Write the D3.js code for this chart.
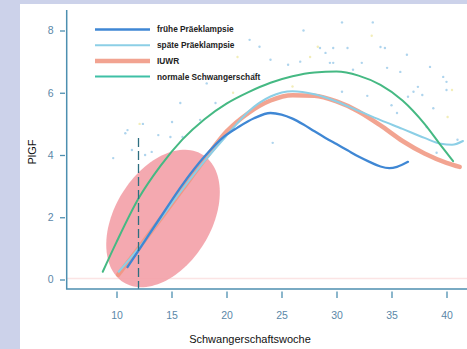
<!DOCTYPE html>
<html>
<head>
<meta charset="utf-8">
<script src="https://cdn.jsdelivr.net/npm/d3@7"></script>
<style>
  body { margin: 0; background: #ccd2ea; }
  svg { display: block; font-family: "Liberation Sans", Arial, sans-serif; }
</style>
</head>
<body>
<div id="chart"></div>
<script>
/* Tick values */
const weekTicks = [10, 15, 20, 25, 30, 35, 40];
const plgfTicks = [0, 2, 4, 6, 8];

/* Smoothed curves: [Schwangerschaftswoche, PlGF] */
const fruehePE = [[11, 0.4], [12, 0.93], [14, 2.0], [16, 3.05], [18, 3.95], [19.8, 4.6], [21, 4.88],
  [22.5, 5.18], [24, 5.35], [25, 5.3], [26, 5.17], [27, 4.98], [28, 4.76], [29, 4.55], [30, 4.35],
  [31, 4.15], [32, 3.95], [33, 3.78], [34, 3.63], [34.8, 3.58], [35.5, 3.62], [36.5, 3.78]];
const spaetePE = [[10.2, 0.25], [12, 1.0], [14, 1.95], [16, 2.9], [18, 3.8], [20, 4.62], [22, 5.4],
  [24, 5.88], [26, 6.05], [28, 5.95], [30, 5.72], [32, 5.42], [34, 5.12], [36, 4.84], [38, 4.55],
  [39.5, 4.36], [40.5, 4.33], [41.5, 4.45]];
const iuwr = [[10.15, 0.15], [12, 1.0], [14, 1.95], [16, 2.9], [18, 3.85], [20, 4.75], [22, 5.35],
  [24, 5.75], [26, 5.92], [28, 5.9], [30, 5.72], [32, 5.4], [34, 4.95], [36, 4.45], [38, 4.05],
  [40, 3.75], [41.2, 3.62]];
const normal = [[8.75, 0.25], [10, 1.2], [12, 2.6], [14, 3.65], [16, 4.5], [18, 5.15], [20, 5.65],
  [22, 6.02], [24, 6.32], [26, 6.53], [28, 6.65], [30, 6.68], [32, 6.55], [34, 6.25], [36, 5.75],
  [38, 5.0], [39.5, 4.3], [40.6, 3.8]];

/* Scattered measurements (faint) */
const dotWeek = [30.5, 33.3, 27, 33.2, 28.5, 29.7, 31, 34, 34.4, 36.4, 27.6, 29, 32.3, 34.6, 35.8,
  38.5, 39.7, 40.5, 40, 31.5, 29.7, 37, 37.8, 30.5, 28.3, 29.4, 24, 25.6, 26.7, 37.4, 40, 40.1,
  24.2, 35.5, 38.2, 41, 39.1, 36.5, 21, 22.1, 23, 11, 12.4, 11.4, 14.9, 20.6, 16.9, 10.8, 15.8,
  19, 17.6, 15.05, 12.1, 16, 13.8, 12.6, 13.2, 9.7, 18.2, 26, 32.8, 35, 38.8, 22.5];
const dotPlgf = [8.26, 8.26, 8.0, 7.83, 7.44, 7.44, 7.44, 7.47, 7.44, 7.22, 7.15, 7.28, 6.96, 6.8,
  6.67, 6.83, 6.51, 6.09, 6.35, 6.74, 6.96, 6.03, 5.93, 6.03, 7.48, 6.96, 7.06, 6.9, 7.0, 6.19,
  6.09, 5.22, 4.39, 5.35, 4.9, 4.49, 4.07, 5.87, 7.15, 7.7, 7.48, 4.8, 5.0, 4.16, 4.58, 6.0, 3.42,
  4.7, 5.67, 5.67, 5.13, 5.06, 5.0, 4.58, 4.64, 4.0, 4.1, 3.9, 6.3, 6.2, 5.9, 5.6, 5.5, 6.6];

/* Shaded region (data units): centre and two conjugate half-axes */
const ellipseCenter = [14.23, 1.96];
const ellipseAxisA = [3.6, 2.05];
const ellipseAxisB = [3.7, -0.82];
const markerWeek = 12;
const markerTop = 4.55;

const legendLabels = ["frühe Präeklampsie", "späte Präeklampsie", "IUWR", "normale Schwangerschaft"];

const width = 467, height = 349;

const svg = d3.select("#chart")
  .append("svg")
  .attr("width", width)
  .attr("height", height);

/* white panel */
svg.append("rect")
  .attr("x", 20).attr("y", 4)
  .attr("width", width - 20).attr("height", height - 4)
  .attr("fill", "#ffffff");

const x = d3.scaleLinear().domain([10, 40]).range([116.5, 446.5]);
const y = d3.scaleLinear().domain([0, 8]).range([279.5, 30.5]);

const axisColor = "#4d8fb0";
const labelColor = "#5b87a8";

/* faint zero line */
svg.append("line")
  .attr("x1", 67).attr("x2", width)
  .attr("y1", y(0) - 1).attr("y2", y(0) - 1)
  .attr("stroke", "#fbe4e4").attr("stroke-width", 1.5);

/* dots */
svg.append("g")
  .selectAll("circle")
  .data(dotWeek)
  .join("circle")
  .attr("cx", d => x(d))
  .attr("cy", (d, i) => y(dotPlgf[i]))
  .attr("r", 1.2)
  .attr("fill", (d, i) => i % 7 === 3 ? "#ece69a" : "#8cc2e6")
  .attr("opacity", 0.7);

/* ellipse built in data space */
const ell = d3.range(0, 2 * Math.PI + 0.01, Math.PI / 60).map(t => [
  ellipseCenter[0] + ellipseAxisA[0] * Math.cos(t) + ellipseAxisB[0] * Math.sin(t),
  ellipseCenter[1] + ellipseAxisA[1] * Math.cos(t) + ellipseAxisB[1] * Math.sin(t)
]);
svg.append("path")
  .attr("d", d3.line().x(d => x(d[0])).y(d => y(d[1]))(ell) + "Z")
  .attr("fill", "#f3a0a7")
  .attr("opacity", 0.9);

/* curves */
const line = d3.line()
  .x(d => x(d[0]))
  .y(d => y(d[1]))
  .curve(d3.curveMonotoneX);

const series = [
  {data: iuwr, color: "#f0947e", w: 4.5, op: 0.85},
  {data: spaetePE, color: "#8ccfe6", w: 2, op: 1},
  {data: fruehePE, color: "#3f87d4", w: 2.3, op: 1},
  {data: normal, color: "#45b983", w: 2, op: 1}
];
series.forEach(s => {
  svg.append("path")
    .attr("d", line(s.data))
    .attr("fill", "none")
    .attr("stroke", s.color)
    .attr("stroke-width", s.w)
    .attr("stroke-linecap", "round")
    .attr("opacity", s.op);
});

/* dashed marker at week 12 */
svg.append("line")
  .attr("x1", x(markerWeek)).attr("x2", x(markerWeek))
  .attr("y1", y(markerTop)).attr("y2", 289)
  .attr("stroke", "#2d6e80")
  .attr("stroke-width", 1.3)
  .attr("stroke-dasharray", "9,4");

/* box lines (L shape) */
svg.append("path")
  .attr("d", `M66.7,10V289H${width}`)
  .attr("fill", "none")
  .attr("stroke", axisColor)
  .attr("stroke-width", 1.5);

/* axes */
const xGroup = svg.append("g")
  .attr("transform", "translate(0,291.5)")
  .call(d3.axisBottom(x).tickValues(weekTicks).tickSize(6.5).tickPadding(14).tickSizeOuter(0));
const yGroup = svg.append("g")
  .attr("transform", "translate(65,0)")
  .call(d3.axisLeft(y).tickValues(plgfTicks).tickSize(5).tickPadding(6.5).tickSizeOuter(0));

[xGroup, yGroup].forEach(g => {
  g.select(".domain").remove();
  g.selectAll("line").attr("stroke", axisColor).attr("stroke-width", 1.3);
  g.selectAll("text")
    .attr("fill", labelColor)
    .style("font-size", "10.5px")
    .style("font-family", "Liberation Sans, Arial, sans-serif");
});

/* axis titles */
svg.append("text")
  .attr("x", 250).attr("y", 343)
  .attr("text-anchor", "middle")
  .style("font-size", "11px")
  .attr("fill", "#111")
  .text("Schwangerschaftswoche");

svg.append("text")
  .attr("transform", "translate(36,152) rotate(-90)")
  .attr("text-anchor", "middle")
  .style("font-size", "11px")
  .attr("fill", "#111")
  .text("PlGF");

/* legend */
const legend = svg.append("g").attr("transform", "translate(95,29.5)");
legendLabels.forEach((lab, i) => {
  const s = [series[2], series[1], series[0], {color: "#3fc0a6", w: 2, op: 1}][i];
  legend.append("line")
    .attr("x1", 0).attr("x2", 55)
    .attr("y1", i * 15.7).attr("y2", i * 15.7)
    .attr("stroke", s.color)
    .attr("stroke-width", s.w)
    .attr("opacity", s.op);
  legend.append("text")
    .attr("x", 62).attr("y", i * 15.7)
    .attr("dy", "0.35em")
    .style("font-size", "8.3px")
    .style("font-weight", "bold")
    .attr("fill", "#222")
    .text(lab);
});
</script>
</body>
</html>
